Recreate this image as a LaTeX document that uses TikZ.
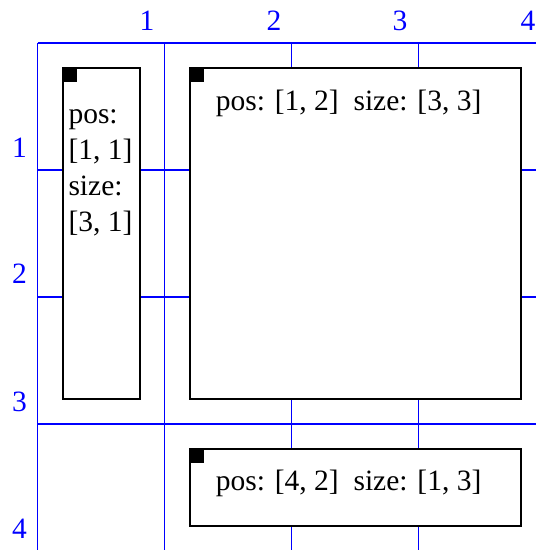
\documentclass[tikz,border=0pt]{standalone}
\usepackage{fontspec}
\setmainfont{Liberation Serif}
\newfontfamily\timesfont{Liberation Serif}
\begin{document}
\begin{tikzpicture}[x=1pt,y=-1pt,
  gridline/.style={draw=blue, line width=1.3pt},
  cellbox/.style={draw=black, line width=2pt, fill=white, anchor=north west, inner sep=0pt, outer sep=0pt},
  corner/.style={fill=black, anchor=north west, inner sep=0pt, outer sep=0pt, minimum width=14pt, minimum height=14pt},
  celltext/.style={anchor=base west, inner sep=0pt, font=\timesfont\fontsize{29.5}{36}\selectfont},
  axislabel/.style={anchor=base, inner sep=0pt, text=blue, font=\timesfont\fontsize{29.5}{36}\selectfont}]
\path[use as bounding box] (0,0) rectangle (536,550);
% grid
\foreach \gx in {37.5,164.5,291.5,418.5}
  \draw[gridline] (\gx,43) -- (\gx,550);
\foreach \gy in {43,170,297,424}
  \draw[gridline] (37.5,\gy) -- (536,\gy);
% axis labels
\node[axislabel] (c1) at (147,30) {1};
\node[axislabel] (c2) at (274,30) {2};
\node[axislabel] (c3) at (400,30) {3};
\node[axislabel] (c4) at (528,30) {4};
\node[axislabel] (r1) at (19.5,157) {1};
\node[axislabel] (r2) at (19.5,283.5) {2};
\node[axislabel] (r3) at (19.5,411) {3};
\node[axislabel] (r4) at (19.5,538) {4};
% boxes
\node[cellbox, minimum width=77pt, minimum height=331pt] (boxA) at (62.5,68) {};
\node[corner] (cornerA) at (boxA.north west) {};
\node[celltext] (tA1) at (68.3,123) {pos:};
\node[celltext] (tA2) at (68.3,159.5) {[1, 1]};
\node[celltext] (tA3) at (68.3,195.5) {size:};
\node[celltext] (tA4) at (68.3,231.5) {[3, 1]};
\node[cellbox, minimum width=331pt, minimum height=331pt] (boxB) at (189.5,68) {};
\node[corner] (cornerB) at (boxB.north west) {};
\node[celltext] (tB) at (215.7,110) {pos: [1, 2]\ \ size: [3, 3]};
\node[cellbox, minimum width=331pt, minimum height=77pt] (boxC) at (189.5,449) {};
\node[corner] (cornerC) at (boxC.north west) {};
\node[celltext] (tC) at (215.7,490) {pos: [4, 2]\ \ size: [1, 3]};
\end{tikzpicture}
\end{document}
